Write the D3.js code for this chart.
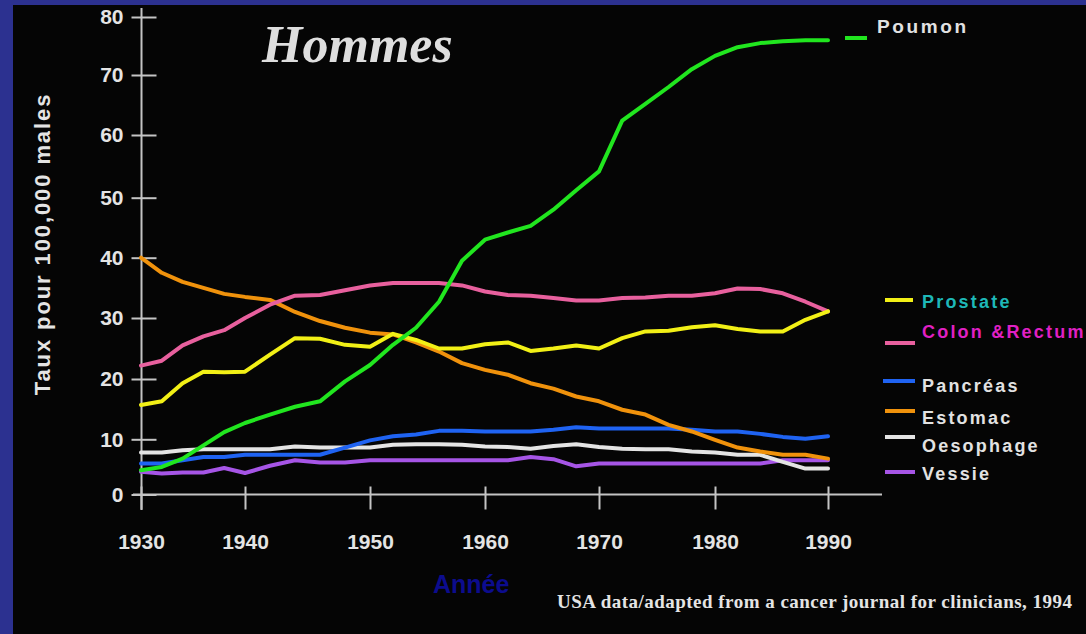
<!DOCTYPE html>
<html>
<head>
<meta charset="utf-8">
<script src="https://cdn.jsdelivr.net/npm/d3@7"></script>
<style>
html, body { margin: 0; padding: 0; background: #2c3190; }
svg { display: block; }
</style>
</head>
<body>
<div id="chart"></div>
<script>
// values (rate per 100,000 males, every 2 years)
var years = [1930, 1932, 1934, 1936, 1938, 1940, 1942, 1944, 1946, 1948, 1950,
             1952, 1954, 1956, 1958, 1960, 1962, 1964, 1966, 1968, 1970,
             1972, 1974, 1976, 1978, 1980, 1982, 1984, 1986, 1988, 1990];

var poumon    = [4.4, 5.0, 6.5, 8.9, 11.2, 12.7, 14.1, 15.4, 16.3, 19.6, 22.3,
                 25.6, 28.4, 32.7, 39.5, 43.0, 44.2, 45.3, 48.0, 51.2, 54.2,
                 62.4, 65.2, 68.0, 71.0, 73.3, 74.8, 75.5, 75.8, 76.0, 76.0];
var prostate  = [15.7, 16.3, 19.3, 21.2, 21.1, 21.2, 24.0, 26.7, 26.6, 25.6, 25.3,
                 27.4, 26.4, 25.0, 25.0, 25.7, 26.0, 24.6, 25.0, 25.5, 25.0,
                 26.7, 27.8, 27.9, 28.5, 28.8, 28.2, 27.8, 27.8, 29.7, 31.1];
var colon     = [22.2, 23.0, 25.5, 27.0, 28.0, 30.0, 32.2, 33.7, 33.8, 34.6, 35.4,
                 35.8, 35.8, 35.8, 35.4, 34.4, 33.8, 33.7, 33.3, 32.9, 32.9,
                 33.3, 33.4, 33.7, 33.7, 34.1, 34.9, 34.8, 34.1, 32.7, 31.1];
var pancreas  = [5.6, 5.6, 6.2, 6.8, 6.8, 7.2, 7.2, 7.2, 7.2, 8.5, 9.8,
                 10.5, 10.8, 11.4, 11.4, 11.3, 11.3, 11.3, 11.6, 12.0, 11.8,
                 11.8, 11.8, 11.8, 11.6, 11.3, 11.3, 10.9, 10.4, 10.1, 10.5];
var estomac   = [40.0, 37.5, 36.0, 35.0, 34.0, 33.5, 33.0, 31.0, 29.5, 28.4, 27.6,
                 27.3, 26.0, 24.5, 22.6, 21.5, 20.7, 19.3, 18.4, 17.1, 16.3,
                 14.9, 14.1, 12.4, 11.3, 9.9, 8.5, 7.8, 7.2, 7.2, 6.5];
var oesophage = [7.6, 7.6, 8.0, 8.2, 8.2, 8.2, 8.2, 8.7, 8.5, 8.5, 8.5,
                 9.0, 9.1, 9.1, 9.0, 8.7, 8.6, 8.3, 8.8, 9.1, 8.6,
                 8.3, 8.2, 8.2, 7.8, 7.6, 7.2, 7.2, 5.9, 4.7, 4.7];
var vessie    = [4.1, 3.8, 4.0, 4.0, 4.8, 3.9, 5.2, 6.2, 5.8, 5.8, 6.2,
                 6.2, 6.2, 6.2, 6.2, 6.2, 6.2, 6.8, 6.4, 5.1, 5.6,
                 5.6, 5.6, 5.6, 5.6, 5.6, 5.6, 5.6, 6.2, 6.2, 6.2];

var yearTicks = [1930, 1940, 1950, 1960, 1970, 1980, 1990];
var rateTicks = [0, 10, 20, 30, 40, 50, 60, 70, 80];

var seriesNames  = ["Vessie", "Oesophage", "Pancréas", "Estomac", "Colon &Rectum", "Prostate", "Poumon"];
var seriesValues = [vessie, oesophage, pancreas, estomac, colon, prostate, poumon];
var seriesColors = ["#a655e6", "#e4e4e4", "#1f63f2", "#f0920c", "#e8609e", "#f2f016", "#21e61f"];
var labelColors  = ["#e2e2e2", "#e2e2e2", "#e2e2e2", "#e2e2e2", "#e020c4", "#1eb8b8", "#e2e2e2"];

// layout (the slide's axes are hand spaced, so the scales follow the tick marks)
var W = 1086, H = 634;
var xTickPx = [141, 245, 370, 485, 599, 715, 828];
var yTickPx = [494.5, 439.3, 379, 318, 257.7, 197.7, 135, 75, 17];
// legend rows: swatch x range, swatch y, text baseline
var legendRows = [
    {x1: 885, x2: 915, sy: 472, ty: 480},
    {x1: 885, x2: 915, sy: 437, ty: 452},
    {x1: 883, x2: 915, sy: 381, ty: 392},
    {x1: 885, x2: 915, sy: 411, ty: 424},
    {x1: 885, x2: 915, sy: 343, ty: 338},
    {x1: 885, x2: 913, sy: 300, ty: 308},
    {x1: 845, x2: 867, sy: 38,  ty: 33}
];

var svg = d3.select("#chart")
    .append("svg")
    .attr("width", W)
    .attr("height", H);

// blue slide frame + black panel
svg.append("rect").attr("width", W).attr("height", H).attr("fill", "#2c3190");
svg.append("rect").attr("x", 13).attr("y", 5).attr("width", W - 13).attr("height", H - 5).attr("fill", "#050505");

var x = d3.scaleLinear().domain(yearTicks).range(xTickPx);
var y = d3.scaleLinear().domain(rateTicks).range(yTickPx);

var font = "'Liberation Sans', Arial, sans-serif";
var serif = "'Liberation Serif', 'Times New Roman', serif";

// Y axis
var gy = svg.append("g")
    .attr("transform", "translate(141.5,0)")
    .call(d3.axisLeft(y).tickValues(rateTicks).tickSize(10).tickPadding(8));
gy.select(".domain").remove();
gy.selectAll(".tick line").attr("x1", 15).attr("stroke", "#c4c4c4").attr("stroke-width", 2);
gy.selectAll(".tick text")
    .attr("fill", "#e4e4e4")
    .style("font", "bold 21px " + font);
svg.append("line")
    .attr("x1", 141.5).attr("x2", 141.5)
    .attr("y1", 8).attr("y2", 510)
    .attr("stroke", "#c4c4c4").attr("stroke-width", 2);

// X axis
var gx = svg.append("g")
    .attr("transform", "translate(0," + y(0) + ")")
    .call(d3.axisBottom(x).tickValues(yearTicks).tickFormat(d3.format("d")).tickSize(15).tickPadding(25));
gx.select(".domain").remove();
gx.selectAll(".tick line").attr("y1", -8).attr("stroke", "#c4c4c4").attr("stroke-width", 2);
gx.selectAll(".tick text")
    .attr("fill", "#e4e4e4")
    .style("font", "bold 21px " + font);
svg.append("line")
    .attr("x1", 133).attr("x2", 882)
    .attr("y1", y(0)).attr("y2", y(0))
    .attr("stroke", "#c4c4c4").attr("stroke-width", 2);

// lines
var line = d3.line()
    .x(function (d, i) { return x(years[i]); })
    .y(function (d) { return y(d); });

svg.selectAll(".serie")
    .data(seriesValues)
    .enter()
    .append("path")
    .attr("class", "serie")
    .attr("d", line)
    .attr("fill", "none")
    .attr("stroke", function (d, i) { return seriesColors[i]; })
    .attr("stroke-width", 4)
    .attr("stroke-linejoin", "round")
    .attr("stroke-linecap", "round");

// legend
seriesNames.forEach(function (name, i) {
    var r = legendRows[i];
    svg.append("line")
        .attr("x1", r.x1).attr("x2", r.x2)
        .attr("y1", r.sy).attr("y2", r.sy)
        .attr("stroke", seriesColors[i])
        .attr("stroke-width", 4);
    svg.append("text")
        .attr("x", name === "Poumon" ? 877 : 922)
        .attr("y", r.ty)
        .attr("fill", labelColors[i])
        .style("font", "bold " + (name === "Poumon" ? 19 : 18) + "px " + font)
        .style("letter-spacing", name === "Poumon" ? "2.6px" : "2.2px")
        .text(name);
});

// titles
svg.append("text")
    .attr("x", 262).attr("y", 62)
    .attr("fill", "#dedede")
    .style("font", "italic bold 52px " + serif)
    .text("Hommes");

svg.append("text")
    .attr("transform", "translate(42,244) rotate(-90)")
    .attr("text-anchor", "middle")
    .attr("dominant-baseline", "central")
    .attr("fill", "#e4e4e4")
    .style("font", "bold 22px " + font)
    .style("letter-spacing", "1.9px")
    .text("Taux pour 100,000 males");

svg.append("text")
    .attr("x", 433).attr("y", 593)
    .attr("fill", "#0c0c8e")
    .style("font", "bold 25px " + font)
    .text("Année");

svg.append("text")
    .attr("x", 557).attr("y", 608)
    .attr("fill", "#e4e4e4")
    .attr("textLength", 515)
    .attr("lengthAdjust", "spacing")
    .style("font", "bold 19px " + serif)
    .text("USA data/adapted from a cancer journal for clinicians, 1994");
</script>
</body>
</html>
